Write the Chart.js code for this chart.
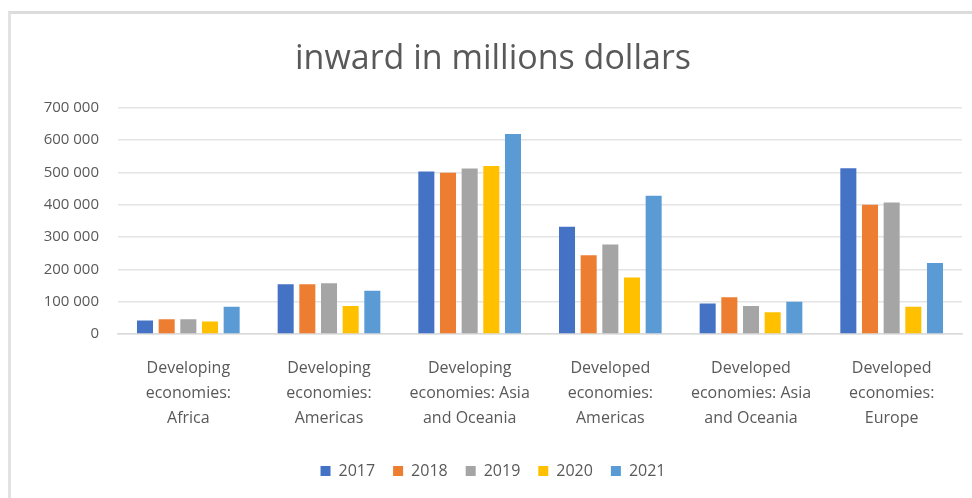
<!DOCTYPE html>
<html>
<head>
<meta charset="utf-8">
<script src="https://cdn.jsdelivr.net/npm/chart.js@4/dist/chart.umd.min.js"></script>
<style>
    html, body { margin: 0; padding: 0; background: #fff; overflow: hidden; }
    #wrap { position: relative; width: 972px; height: 498px; }
    #frame {
        position: absolute; left: 8px; top: 11px; width: 1000px; height: 600px;
        border-left: 3px solid #e2e2e2; border-top: 3px solid #dcdcdc;
        box-sizing: border-box;
    }
    #chart_fdi { position: absolute; left: 0; top: 0; }
</style>
</head>
<body>
<div id="wrap">
    <div id="frame"></div>
    <canvas id="chart_fdi" width="972" height="498"></canvas>
</div>
<script>
const regions = [
    ['Developing', 'economies:', 'Africa'],
    ['Developing', 'economies:', 'Americas'],
    ['Developing', 'economies: Asia', 'and Oceania'],
    ['Developed', 'economies:', 'Americas'],
    ['Developed', 'economies: Asia', 'and Oceania'],
    ['Developed', 'economies:', 'Europe']
];

// inward FDI, millions of dollars
const y2017 = [42000, 154000, 503000, 332000, 94000, 513000];
const y2018 = [46000, 154000, 499000, 244000, 114000, 400000];
const y2019 = [46000, 157000, 512000, 277000, 87000, 407000];
const y2020 = [39000, 87000, 520000, 175000, 67000, 84000];
const y2021 = [84000, 134000, 619000, 428000, 100000, 220000];

const years = ['2017', '2018', '2019', '2020', '2021'];
const colors = ['#4472C4', '#ED7D31', '#A5A5A5', '#FFC000', '#5B9BD5'];

const textColor = '#595959';
const fontFam = '"Open Sans", Lato, sans-serif';

const ctx = document.getElementById('chart_fdi').getContext('2d');

const myChart = new Chart(ctx, {
    type: 'bar',
    data: {
        labels: regions,
        datasets: [y2017, y2018, y2019, y2020, y2021].map((vals, i) => ({
            label: years[i],
            data: vals,
            backgroundColor: colors[i],
            borderWidth: 0,
            categoryPercentage: 0.77,
            barPercentage: 0.74
        }))
    },
    options: {
        responsive: false,
        animation: false,
        layout: {
            padding: { left: 24, right: 10, top: 0, bottom: 9 }
        },
        scales: {
            y: {
                min: 0,
                max: 700000,
                border: { display: false },
                grid: { color: '#e4e4e4', lineWidth: 1.5, drawTicks: false },
                ticks: {
                    stepSize: 100000,
                    padding: 19,
                    color: textColor,
                    font: { family: fontFam, size: 15 },
                    callback: v => String(v).replace(/\B(?=(\d{3})+(?!\d))/g, ' ')
                },
                afterFit: scale => { scale.width = 94; }
            },
            x: {
                border: { display: true, color: '#dadada', width: 1.5 },
                grid: { display: false },
                ticks: {
                    padding: 14,
                    color: textColor,
                    maxRotation: 0,
                    autoSkip: false,
                    font: { family: fontFam, size: 16, lineHeight: 1.5625 }
                }
            }
        },
        plugins: {
            title: {
                display: true,
                text: 'inward in millions dollars',
                color: textColor,
                font: { family: fontFam, size: 34, weight: 'normal' },
                padding: { top: 39, bottom: 28 }
            },
            legend: {
                position: 'bottom',
                labels: {
                    boxWidth: 10,
                    boxHeight: 10,
                    padding: 18,
                    color: textColor,
                    font: { family: fontFam, size: 16 }
                }
            },
            tooltip: { enabled: false }
        }
    }
});
</script>
</body>
</html>
